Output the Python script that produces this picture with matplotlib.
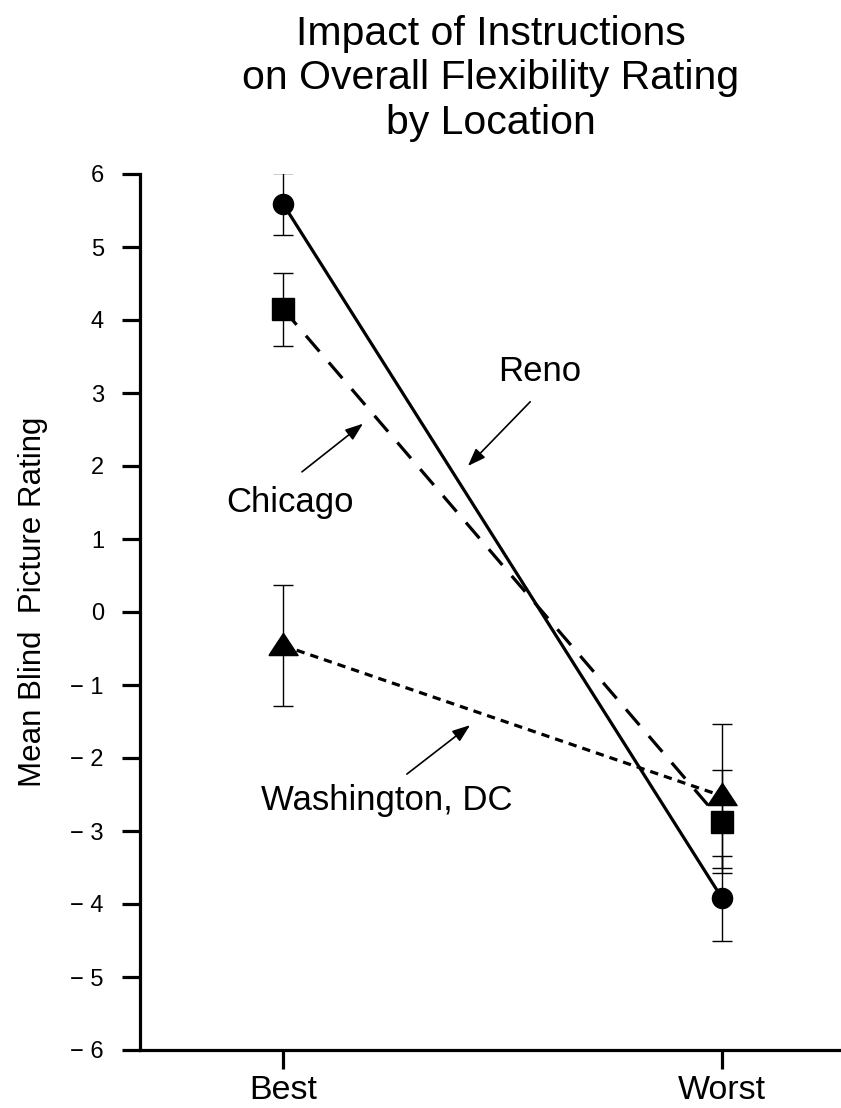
import matplotlib
matplotlib.use("Agg")
import matplotlib.pyplot as plt

plt.rcParams["font.family"] = ["Liberation Sans", "DejaVu Sans"]

# data
conditions = ["Best", "Worst"]
reno_mean = [5.59, -3.92]
reno_err = [0.43, 0.58]
chicago_mean = [4.15, -2.87]
chicago_err = [0.50, 0.71]
washington_mean = [-0.46, -2.52]
washington_err = [0.83, 0.99]
yticks = list(range(-6, 7))
ytick_labels = [str(v) if v >= 0 else "\u2212 " + str(-v) for v in yticks]

fig = plt.figure(figsize=(8.41, 11.08), dpi=100)
ax = fig.add_axes([140 / 841, 1 - 1050 / 1108, 701 / 841, 876 / 1108])

x = list(range(len(conditions)))
tri = [(-1, -0.62), (1, -0.62), (0, 0.9), (-1, -0.62)]

series = [
    (reno_mean, reno_err, "-", "o", 14.5),
    (chicago_mean, chicago_err, (0, (6.5, 4.5)), "s", 16),
    (washington_mean, washington_err, (0, (2.6, 1.9)), tri, 21),
]
for mean, err, ls, mk, ms in series:
    ax.errorbar(x, mean, yerr=err, fmt="none", ecolor="black",
                elinewidth=1, capsize=7, capthick=1, zorder=2)
    ax.plot(x, mean, linestyle=ls, color="black", lw=2.3,
            marker=mk, markersize=ms, markerfacecolor="black",
            markeredgecolor="black", zorder=3)

# labels with arrows
arrow = dict(arrowstyle="-|>,head_length=0.6,head_width=0.22",
             color="black", lw=1.2, mutation_scale=18, shrinkA=0, shrinkB=0)
ax.annotate("", xy=(0.421, 2.0), xytext=(0.563, 2.88), arrowprops=arrow)
ax.text(0.585, 3.16, "Reno", fontsize=25, ha="center", va="baseline")
ax.annotate("", xy=(0.182, 2.58), xytext=(0.043, 1.92), arrowprops=arrow)
ax.text(0.016, 1.37, "Chicago", fontsize=25, ha="center", va="baseline")
ax.annotate("", xy=(0.426, -1.55), xytext=(0.282, -2.22), arrowprops=arrow)
ax.text(0.237, -2.71, "Washington, DC", fontsize=25, ha="center", va="baseline")

ax.set_xlim(-0.326, 1.271)
ax.set_ylim(-6, 6)
ax.set_xticks(x)
ax.set_xticklabels(conditions, fontsize=24.5)
ax.set_yticks(yticks)
ax.set_yticklabels(ytick_labels, fontsize=17)

for side in ["top", "right"]:
    ax.spines[side].set_visible(False)
for side in ["left", "bottom"]:
    ax.spines[side].set_linewidth(2.3)

ax.tick_params(axis="y", direction="out", length=13, width=2.3, pad=13)
ax.tick_params(axis="x", direction="out", length=14, width=2.3, pad=4)

ax.set_ylabel("Mean Blind  Picture Rating", fontsize=22.5)
ax.yaxis.set_label_coords(-0.131, 0.512)

ax.set_title("Impact of Instructions\non Overall Flexibility Rating\nby Location",
             fontsize=29.5, linespacing=1.22, pad=29)

fig.savefig("out.png", dpi=100)
